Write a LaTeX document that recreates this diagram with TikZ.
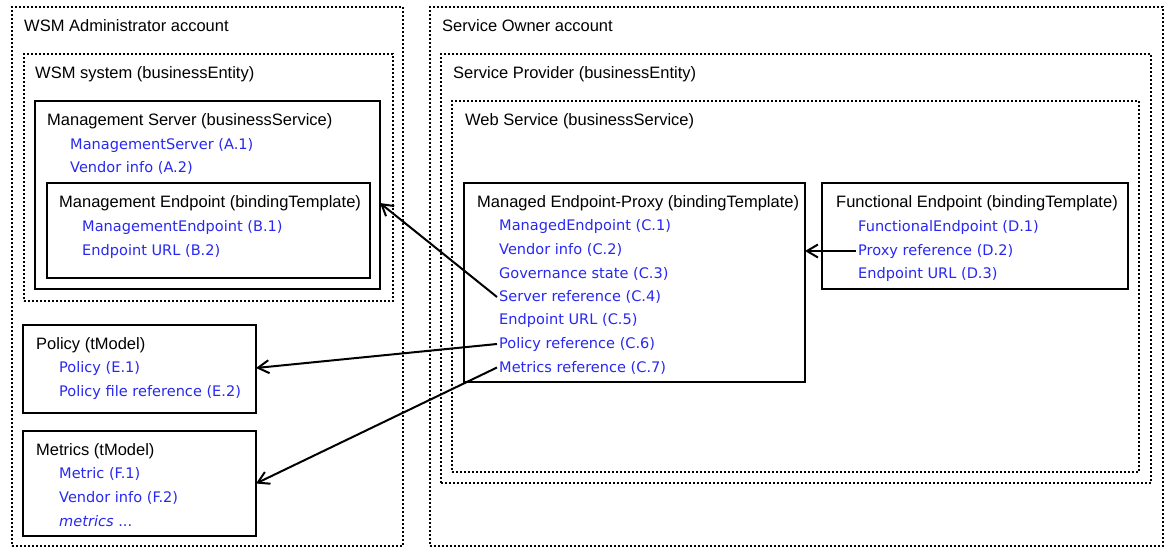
\documentclass[tikz,border=0pt]{standalone}
\usepackage{fontspec}
\setmainfont{Liberation Sans}
\newfontfamily\fieldfont{DejaVu Sans}
\usepackage{tikz}
\usetikzlibrary{arrows.meta}
\definecolor{fieldblue}{RGB}{40,40,240}

\begin{document}
\begin{tikzpicture}[x=1pt, y=-1pt,
    account/.style={draw, line width=2pt, dash pattern=on 2pt off 2pt, anchor=north west, inner sep=0pt, outer sep=0pt},
    entry/.style={draw, line width=2pt, anchor=north west, inner sep=0pt, outer sep=0pt},
    heading/.style={anchor=west, inner sep=2pt, yshift=-2pt, font=\fontsize{16.5}{18}\selectfont},
    field/.style={anchor=west, inner sep=2pt, yshift=-2pt, text=fieldblue, font=\fieldfont\fontsize{14.55}{16}\selectfont},
    ref/.style={line width=2pt, -{Straight Barb[length=11pt, width=13pt, line width=2pt]}}]
    \useasboundingbox (0,0) rectangle (1170,548);
    % left account
    \node[account, minimum width=391, minimum height=539] (adminacct) at (12,7) {};
    \node[account, minimum width=369, minimum height=247] (wsmsys) at (24,54) {};
    \node[entry, minimum width=345, minimum height=188] (mgmtserver) at (35,101) {};
    \node[entry, minimum width=323, minimum height=95] (mgmtep) at (47,183) {};
    \node[entry, minimum width=233, minimum height=88] (policy) at (23,325) {};
    \node[entry, minimum width=233, minimum height=105] (metrics) at (23,431) {};
    \node[heading] (admintitle) at (22,24) {WSM Administrator account};
    \node[heading] (wsmsystitle) at (33,72) {WSM system (businessEntity)};
    \node[heading] (mgmtservertitle) at (45,119) {Management Server (businessService)};
    \node[field] (a1) at (68,143) {ManagementServer (A.1)};
    \node[field] (a2) at (68,166) {Vendor info (A.2)};
    \node[heading] (mgmteptitle) at (57,201) {Management Endpoint (bindingTemplate)};
    \node[field] (b1) at (80,225) {ManagementEndpoint (B.1)};
    \node[field] (b2) at (80,249) {Endpoint URL (B.2)};
    \node[heading] (policytitle) at (34,343) {Policy (tModel)};
    \node[field] (e1) at (57,366) {Policy (E.1)};
    \node[field] (e2) at (57,390) {Policy file reference (E.2)};
    \node[heading] (metricstitle) at (34,449) {Metrics (tModel)};
    \node[field] (f1) at (57,472) {Metric (F.1)};
    \node[field] (f2) at (57,496) {Vendor info (F.2)};
    \node[field] (f3) at (57,519) {\itshape metrics\upshape{} ...};
    % right account
    \node[account, minimum width=733, minimum height=539] (owneracct) at (430,7) {};
    \node[account, minimum width=710, minimum height=429] (provider) at (441,54) {};
    \node[account, minimum width=687, minimum height=371] (websvc) at (452,101) {};
    \node[entry, minimum width=341, minimum height=199] (managed) at (464,183) {};
    \node[entry, minimum width=306, minimum height=106] (functional) at (822,183) {};
    \node[heading] (ownertitle) at (440,24) {Service Owner account};
    \node[heading] (providertitle) at (451,72) {Service Provider (businessEntity)};
    \node[heading] (websvctitle) at (463,119) {Web Service (businessService)};
    \node[heading] (managedtitle) at (475,201) {Managed Endpoint-Proxy (bindingTemplate)};
    \foreach \txt [count=\i] in {ManagedEndpoint (C.1), Vendor info (C.2), Governance state (C.3),
        Server reference (C.4), Endpoint URL (C.5), Policy reference (C.6), Metrics reference (C.7)}
        \node[field] (c\i) at (497,{201+23.5*\i}) {\txt};
    \node[heading] (functionaltitle) at (834,201) {Functional Endpoint (bindingTemplate)};
    \node[field] (d1) at (856,225) {FunctionalEndpoint (D.1)};
    \node[field] (d2) at (856,249) {Proxy reference (D.2)};
    \node[field] (d3) at (856,272) {Endpoint URL (D.3)};
    % references
    \draw[ref] (c4.west) -- (mgmtserver.east |- mgmteptitle);
    \draw[ref] (c6.west) -- (policy.east |- e1);
    \draw[ref] (c7.west) -- (metrics.east);
    \draw[ref] (d2.west) -- (managed.east |- d2);
\end{tikzpicture}
\end{document}
